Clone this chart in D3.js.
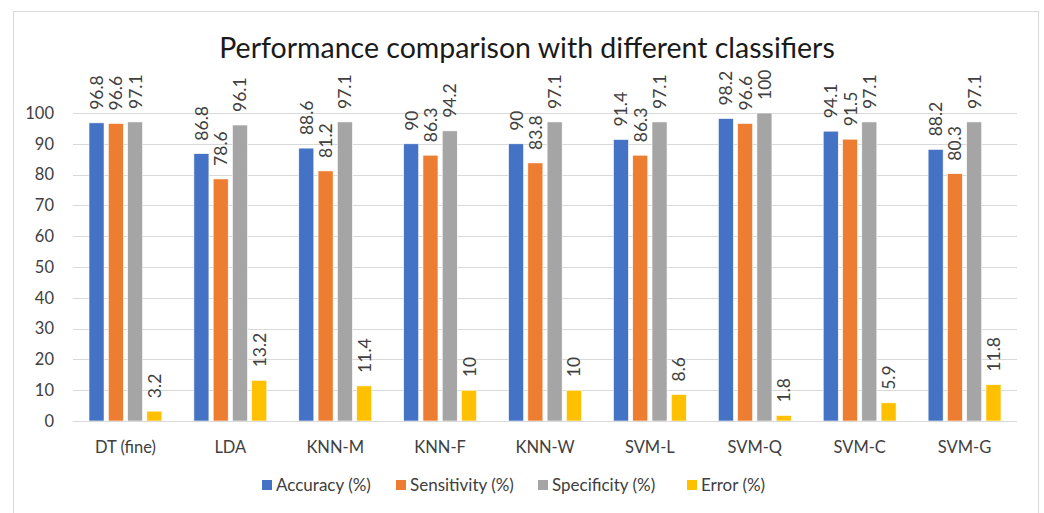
<!DOCTYPE html>
<html>
<head>
<meta charset="utf-8">
<script src="https://cdn.jsdelivr.net/npm/d3@7"></script>
<style>
  body { margin: 0; background: #fff; }
  text { font-family: Lato, "Open Sans", sans-serif; }
</style>
</head>
<body>
<div id="chart"></div>
<script>
// Chart data
const classifiers = ["DT (fine)", "LDA", "KNN-M", "KNN-F", "KNN-W", "SVM-L", "SVM-Q", "SVM-C", "SVM-G"];
const seriesNames = ["Accuracy (%)", "Sensitivity (%)", "Specificity (%)", "Error (%)"];
const accuracy = [96.8, 86.8, 88.6, 90, 90, 91.4, 98.2, 94.1, 88.2];
const sensitivity = [96.6, 78.6, 81.2, 86.3, 83.8, 86.3, 96.6, 91.5, 80.3];
const specificity = [97.1, 96.1, 97.1, 94.2, 97.1, 97.1, 100, 97.1, 97.1];
const errorRate = [3.2, 13.2, 11.4, 10, 10, 8.6, 1.8, 5.9, 11.8];
const yTicks = [0, 10, 20, 30, 40, 50, 60, 70, 80, 90, 100];
const colors = ["#4472C4", "#ED7D31", "#A5A5A5", "#FFC000"];

const allSeries = [accuracy, sensitivity, specificity, errorRate];

const width = 1044, height = 513;
const margin = { top: 113, right: 27, bottom: 92, left: 73 };

const svg = d3.select("#chart")
    .append("svg")
    .attr("width", width)
    .attr("height", height);

// outer frame
svg.append("rect")
    .attr("x", 13.5).attr("y", 11.5)
    .attr("width", 1025).attr("height", 520)
    .attr("fill", "#fff")
    .attr("stroke", "#D9D9D9");

const x0 = d3.scaleBand()
    .domain(classifiers)
    .range([margin.left, width - margin.right])
    .padding(0);

const x1 = d3.scaleBand()
    .domain(seriesNames)
    .range([0, x0.bandwidth()])
    .paddingInner(0.22)
    .paddingOuter(0.83);

const y = d3.scaleLinear()
    .domain([0, 100])
    .range([height - margin.bottom, margin.top]);

// gridlines
svg.append("g")
    .selectAll("line")
    .data(yTicks)
    .enter().append("line")
    .attr("x1", margin.left)
    .attr("x2", width - margin.right)
    .attr("y1", d => Math.round(y(d)) + 0.5)
    .attr("y2", d => Math.round(y(d)) + 0.5)
    .attr("stroke", "#D9D9D9")
    .attr("stroke-width", 1);

// y axis labels
const yAxis = d3.axisLeft(y).tickValues(yTicks).tickSize(0).tickPadding(19);
const yAxisGroup = svg.append("g")
    .attr("transform", `translate(${margin.left}, 0)`)
    .call(yAxis);
yAxisGroup.select(".domain").remove();
yAxisGroup.selectAll("text")
    .style("font-size", "16.5px")
    .attr("fill", "#404040");

// x axis labels
const xAxis = d3.axisBottom(x0).tickSize(0).tickPadding(20);
const xAxisGroup = svg.append("g")
    .attr("transform", `translate(0, ${height - margin.bottom})`)
    .call(xAxis);
xAxisGroup.select(".domain").remove();
xAxisGroup.selectAll("text")
    .style("font-size", "16.5px")
    .attr("fill", "#404040");

// bars
allSeries.forEach((values, si) => {
    const g = svg.append("g");
    g.selectAll("rect")
        .data(values)
        .enter().append("rect")
        .attr("x", (d, i) => x0(classifiers[i]) + x1(seriesNames[si]))
        .attr("y", d => y(d))
        .attr("width", x1.bandwidth())
        .attr("height", d => y(0) - y(d))
        .attr("fill", colors[si])
        .attr("stroke", "#fff")
        .attr("stroke-width", 0.6);

    // value labels, rotated
    g.selectAll("text")
        .data(values)
        .enter().append("text")
        .attr("transform", (d, i) => {
            const cx = x0(classifiers[i]) + x1(seriesNames[si]) + x1.bandwidth() / 2;
            return `translate(${cx + 6.5}, ${y(d) - 13}) rotate(-90)`;
        })
        .attr("text-anchor", "start")
        .style("font-size", "17.5px")
        .attr("fill", "#404040")
        .text(d => d);
});

// domain line at zero
svg.append("line")
    .attr("x1", margin.left)
    .attr("x2", width - margin.right)
    .attr("y1", Math.round(y(0)) + 0.5)
    .attr("y2", Math.round(y(0)) + 0.5)
    .attr("stroke", "#D9D9D9");

// title
svg.append("text")
    .attr("x", 527)
    .attr("y", 58)
    .attr("text-anchor", "middle")
    .style("font-size", "28.5px")
    .attr("fill", "#1a1a1a")
    .text("Performance comparison with different classifiers");

// legend
const legendX = [262, 396, 538, 687];
const legend = svg.append("g");
seriesNames.forEach((name, i) => {
    legend.append("rect")
        .attr("x", legendX[i])
        .attr("y", 480)
        .attr("width", 10)
        .attr("height", 10)
        .attr("fill", colors[i]);
    legend.append("text")
        .attr("x", legendX[i] + 14)
        .attr("y", 491)
        .style("font-size", "17px")
        .attr("fill", "#404040")
        .text(name);
});
</script>
</body>
</html>
